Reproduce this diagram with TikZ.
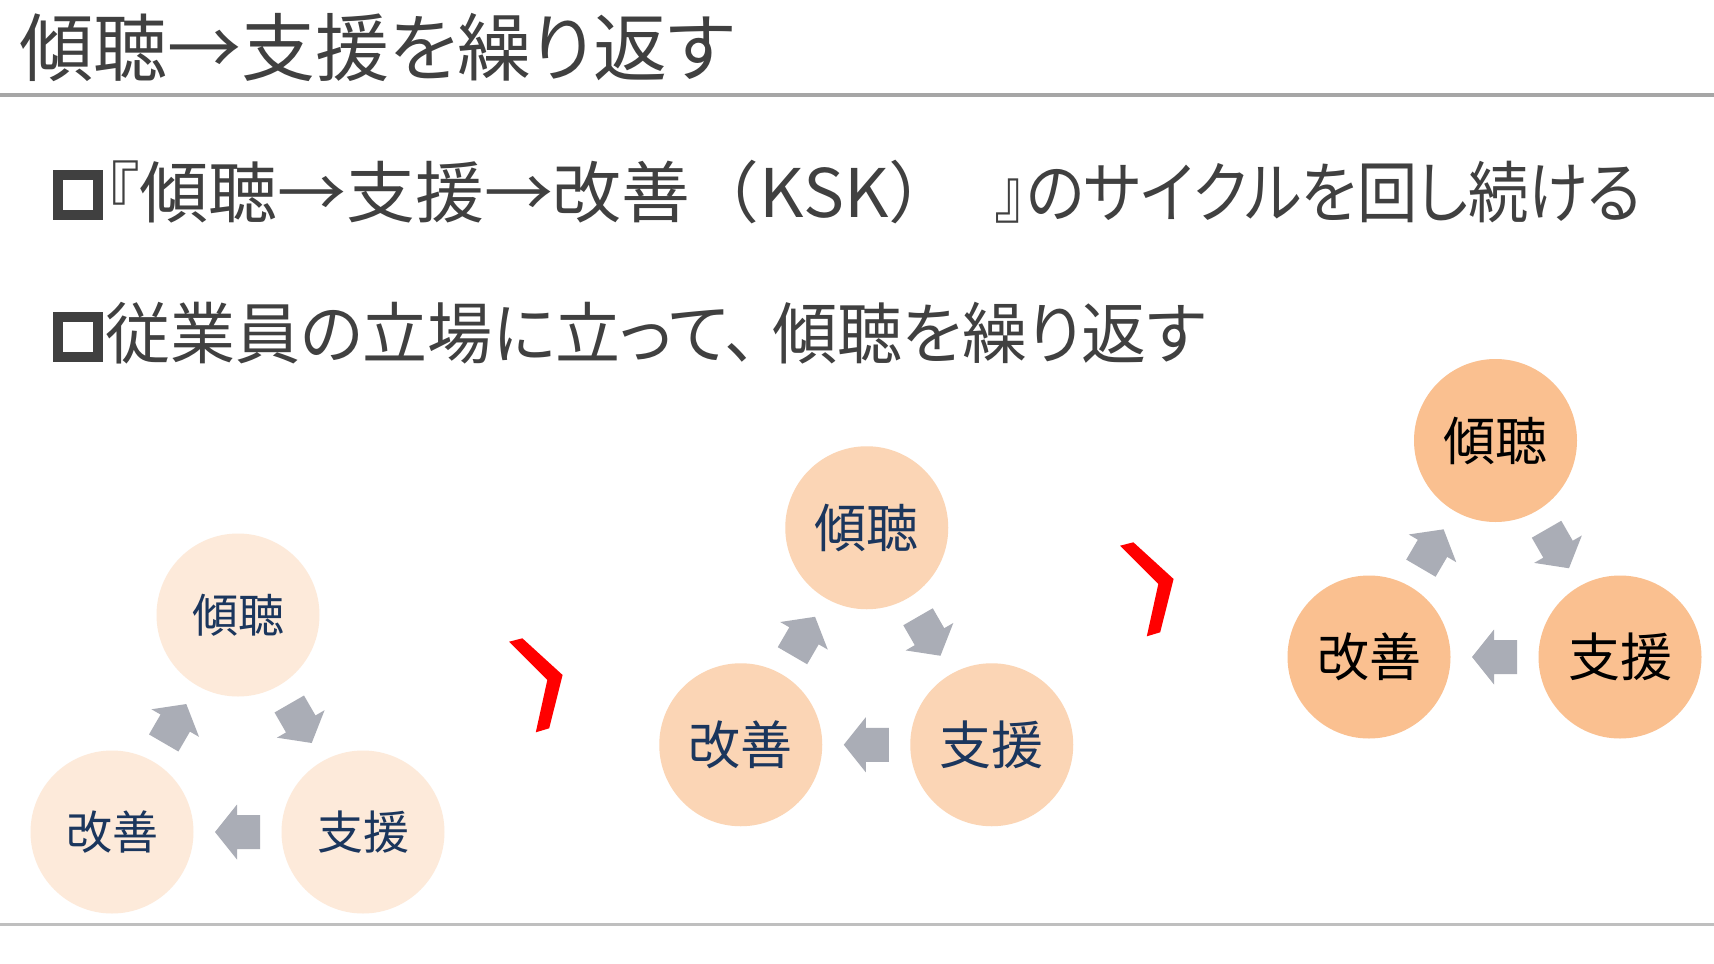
\documentclass[tikz,border=0pt]{standalone}
\usepackage{graphicx}
\usepackage{fontspec}
\setmainfont{Noto Sans CJK JP}
\newfontfamily\pal[RawFeature=+palt]{Noto Sans CJK JP}
\usetikzlibrary{calc}
\definecolor{txtgray}{HTML}{404040}
\definecolor{navy}{HTML}{1B365D}
\definecolor{paleA}{HTML}{FDEADA}
\definecolor{paleB}{HTML}{FBD5B5}
\definecolor{paleC}{HTML}{FAC090}
\definecolor{arrgray}{HTML}{AAADB6}
\definecolor{lineA}{HTML}{A6A6A6}
\definecolor{lineB}{HTML}{BFBFBF}
\definecolor{chevred}{HTML}{FF0000}
\begin{document}
\begin{tikzpicture}[x=1pt,y=-1pt,
  bubble/.style={circle, minimum size=163pt, inner sep=0pt},
  bubbleA/.style={bubble, fill=paleA, text=navy, font=\fontsize{46}{55}\selectfont},
  bubbleB/.style={bubble, fill=paleB, text=navy, font=\fontsize{52}{62}\selectfont},
  bubbleC/.style={bubble, fill=paleC, text=black, font=\fontsize{52}{62}\selectfont},
  bodytext/.style={anchor=base west, inner sep=0pt, text=txtgray, font=\fontsize{67}{80}\selectfont},
  bulletbox/.style={rectangle, draw=txtgray, line width=10pt, minimum size=40pt, inner sep=0pt},
  chevron/.style={fill=chevred},
  pics/blockarr/.style={code={\fill[arrgray] (22.5pt,0pt) -- (0.5pt,27.5pt) -- (0.5pt,17pt) -- (-22.5pt,17pt) -- (-22.5pt,-17pt) -- (0.5pt,-17pt) -- (0.5pt,-27.5pt) -- cycle;}},
  cyc/.style={sloped, allow upside down, pos=0.5}
]
\useasboundingbox (0,0) rectangle (1714,964);
\fill[white] (0,0) rectangle (1714,964);

% title and rules
\node[anchor=base west, inner sep=0pt, text=txtgray, font=\fontsize{74}{88}\selectfont] (title) at (19,75) {\pal 傾聴→支援を繰り返す};
\draw[lineA, line width=3.5pt] (0,95) -- (1714,95);
\draw[lineB, line width=3.5pt] (0,924.5) -- (1714,924.5);

% bullets
\node[bulletbox] (b1) at (77.5,195) {};
\node[bodytext] (l1) at (106,217) {{\pal 『}\scalebox{1.028}[1]{傾聴→支援→改善（KSK）}\kern38pt\scalebox{0.9}[1]{\pal 』のサイクルを回し続ける}};
\node[bulletbox] (b2) at (77.5,337) {};
\node[bodytext] (l2) at (105,358) {\scalebox{0.970}[1]{\pal 従業員の立場に立って、\kern15pt傾聴を繰り返す}};

% left group
\node[bubbleA] (kc1) at (238,615) {傾聴};
\node[bubbleA] (kz1) at (112,832) {改善};
\node[bubbleA] (se1) at (363,832) {支援};
\path (kz1) -- pic[cyc]{blockarr} (kc1);
\path (kc1) -- pic[cyc]{blockarr} (se1);
\path (se1) -- pic[cyc]{blockarr} (kz1);

% middle group
\node[bubbleB] (kc2) at (866.75,527.75) {傾聴};
\node[bubbleB] (kz2) at (740.75,744.75) {改善};
\node[bubbleB] (se2) at (991.75,744.75) {支援};
\path (kz2) -- pic[cyc]{blockarr} (kc2);
\path (kc2) -- pic[cyc]{blockarr} (se2);
\path (se2) -- pic[cyc]{blockarr} (kz2);

% right group
\node[bubbleC] (kc3) at (1495.5,440.5) {傾聴};
\node[bubbleC] (kz3) at (1369,657) {改善};
\node[bubbleC] (se3) at (1620,657) {支援};
\path (kz3) -- pic[cyc]{blockarr} (kc3);
\path (kc3) -- pic[cyc]{blockarr} (se3);
\path (se3) -- pic[cyc]{blockarr} (kz3);

% chevrons
\fill[chevron] (509,641.7) -- (522.4,638.3) -- (562.6,675) -- (549.2,728.3) -- (535.8,732.3) -- (547.3,680) -- cycle;
\begin{scope}[shift={(611,-96)}]
\fill[chevron] (509,641.7) -- (522.4,638.3) -- (562.6,675) -- (549.2,728.3) -- (535.8,732.3) -- (547.3,680) -- cycle;
\end{scope}
\end{tikzpicture}
\end{document}
